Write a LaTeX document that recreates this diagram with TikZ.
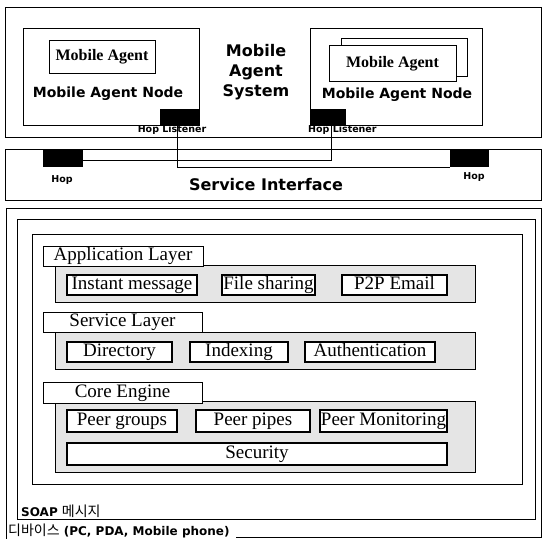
\documentclass[tikz,border=0pt]{standalone}
\usepackage{fontspec}
\setmainfont{Liberation Serif}
\newfontfamily\vsans{DejaVu Sans}
\newfontfamily\krfont{Noto Sans CJK KR}

\tikzset{
  frame/.style={draw, line width=0.8pt},
  nodebox/.style={draw, line width=0.8pt, fill=white, inner sep=0pt},
  agentbox/.style={draw, line width=0.8pt, fill=white, inner sep=0pt,
    text height=11pt, text depth=3pt,
    font=\bfseries\fontsize{16}{18}\selectfont},
  hopblk/.style={fill=black, inner sep=0pt},
  layertab/.style={draw, line width=0.8pt, fill=white, inner sep=0pt,
    text height=12.5pt, text depth=3.5pt,
    font=\fontsize{19}{20}\selectfont},
  layerbody/.style={draw, line width=0.9pt, fill=gray!20, inner sep=0pt},
  item/.style={draw, line width=1.2pt, fill=white, inner sep=0pt,
    text height=12.5pt, text depth=3.5pt,
    font=\fontsize{19}{20}\selectfont},
  wire/.style={line width=0.8pt},
  smalllbl/.style={inner sep=0pt, font=\vsans\bfseries\fontsize{9.5}{10}\selectfont},
  nodelbl/.style={inner sep=0pt, font=\vsans\bfseries\fontsize{14}{16}\selectfont},
  biglbl/.style={inner sep=0pt, font=\vsans\bfseries\fontsize{16}{20}\selectfont},
  footlbl/.style={inner sep=0pt, anchor=base west, font=\vsans\bfseries\fontsize{12}{14}\selectfont},
  kr/.style={}
}
\newcommand\krtext[1]{{\krfont\mdseries\fontsize{14}{14}\selectfont #1}}

\begin{document}
\begin{tikzpicture}[x=1pt,y=-1pt]
\useasboundingbox[fill=white] (0,0) rectangle (543,539);

% ---------- mobile agent system ----------
\node[frame, minimum width=536pt, minimum height=130pt] (mas) at (273,72) {};
\node[nodebox, minimum width=176pt, minimum height=97pt] (ln) at (111,76.5) {};
\node[agentbox, minimum width=106pt, minimum height=33pt] (la) at (102,56.5) {Mobile Agent};
\node[nodelbl] (lnt) at (108,94) {Mobile Agent Node};
\node[hopblk, minimum width=39pt, minimum height=16pt] (lhl) at (179.5,117) {};

\node[biglbl, align=center] (mast) at (256,72) {Mobile\\Agent\\System};

\node[nodebox, minimum width=172pt, minimum height=97pt] (rn) at (396,76.5) {};
\node[agentbox, minimum width=126pt, minimum height=38pt] (rab) at (404,57) {};
\node[agentbox, minimum width=127pt, minimum height=36pt] (ra) at (392.5,63) {Mobile Agent};
\node[nodelbl] (rnt) at (397,95) {Mobile Agent Node};
\node[hopblk, minimum width=36pt, minimum height=16pt] (rhl) at (328,117) {};

% ---------- service interface ----------
\node[frame, minimum width=536pt, minimum height=51pt] (si) at (273,174.5) {};
\node[hopblk, minimum width=40pt, minimum height=17pt] (lhop) at (63,158.5) {};
\node[hopblk, minimum width=39pt, minimum height=17pt] (rhop) at (469.5,158.5) {};
\node[smalllbl] (lhopt) at (62,180) {Hop};
\node[smalllbl] (rhopt) at (474,177) {Hop};
\node[inner sep=0pt, font=\vsans\bfseries\fontsize{16}{18}\selectfont] (sit) at (266,185) {Service Interface};

% links between the hop listeners and the hops
\draw[wire] ([xshift=-2.5pt]lhl.south) |- (rhop.south west);
\draw[wire] ([yshift=-2pt]lhop.east) -| ([xshift=3pt]rhl.south);

\node[smalllbl] (lhlt) at (172,130) {Hop Listener};
\node[smalllbl, anchor=west] (rhlt) at (308,130) {Hop Listener};

% ---------- device / SOAP / peer platform ----------
\draw[frame] (236,537) -- (541,537) -- (541,208) -- (6,208) -- (6,539);
\node[frame, minimum width=518pt, minimum height=300pt] (soap) at (276,369) {};
\node[frame, minimum width=490pt, minimum height=250pt] (core) at (277,359.5) {};

% application layer
\node[layerbody, minimum width=420pt, minimum height=37pt] (appb) at (265,283.5) {};
\node[layertab, minimum width=160pt, minimum height=20pt] (appt) at (123,256) {Application Layer};
\node[item, minimum width=130pt, minimum height=20pt] (im) at (132,285) {Instant message};
\node[item, minimum width=93pt, minimum height=20pt] (fs) at (268.5,285) {File sharing};
\node[item, minimum width=105pt, minimum height=20pt] (pe) at (394.5,285) {P2P Email};

% service layer
\node[layerbody, minimum width=420pt, minimum height=37pt] (svb) at (265,350.5) {};
\node[layertab, minimum width=159pt, minimum height=20pt] (svt) at (122.5,322) {Service Layer};
\node[item, minimum width=105pt, minimum height=20pt] (dir) at (119.5,352) {Directory};
\node[item, minimum width=98pt, minimum height=20pt] (idx) at (239,352) {Indexing};
\node[item, minimum width=130pt, minimum height=20pt] (au) at (370,352) {Authentication};

% core engine
\node[layerbody, minimum width=420pt, minimum height=71pt] (ceb) at (265,437) {};
\node[layertab, minimum width=159pt, minimum height=21pt] (cet) at (122.5,392.5) {Core Engine};
\node[item, minimum width=110pt, minimum height=22pt] (pg) at (122,421) {Peer groups};
\node[item, minimum width=114pt, minimum height=22pt] (pp) at (253,421) {Peer pipes};
\node[item, minimum width=127pt, minimum height=22pt] (pm) at (383.5,421) {Peer Monitoring};
\node[item, minimum width=380pt, minimum height=22pt] (sec) at (257,454) {Security};

\node[footlbl] (soapt) at (21,516) {SOAP \krtext{메시지}};
\node[footlbl] (devt) at (8,535) {\krtext{디바이스} (PC, PDA, Mobile phone)};
\end{tikzpicture}
\end{document}
